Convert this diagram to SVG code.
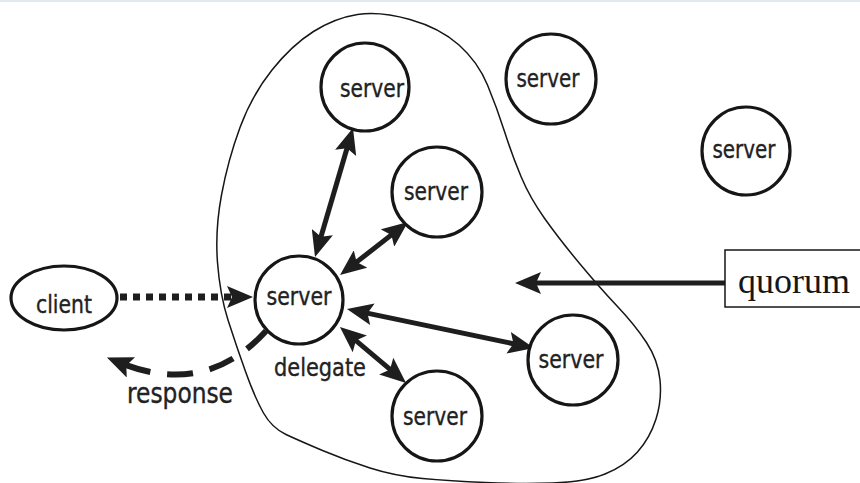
<svg xmlns="http://www.w3.org/2000/svg" width="860" height="483" viewBox="0 0 860 483">
  <style>
    .node { fill: #ffffff; stroke: #161616; stroke-width: 3.2; }
    .lbl { font-family: 'DejaVu Sans Condensed', 'DejaVu Sans', sans-serif; font-stretch: condensed; font-size: 25px; fill: #222222; stroke: #222222; stroke-width: 0.35; text-anchor: middle; }
    .serif { font-family: 'Liberation Serif', 'DejaVu Serif', serif; font-size: 36px; fill: #161616; text-anchor: middle; }
    .link { fill: none; stroke: #1e1e1e; stroke-width: 5; }
    .dotted { stroke-width: 7; stroke-dasharray: 7 6; }
    .dashed { stroke-width: 6; stroke-dasharray: 26 17; }
    .head { fill: #1e1e1e; }
  </style>
  <defs>
    <marker id="arrow" viewBox="0 0 26 22" refX="14" refY="11" markerWidth="26" markerHeight="22" markerUnits="userSpaceOnUse" orient="auto-start-reverse">
      <path class="head" d="M0,0 L26,11 L0,22 L5,11 Z"/>
    </marker>
  </defs>

  <rect width="860" height="483" fill="#ffffff"/>
  <rect x="0" y="0" width="860" height="2" fill="#e2e9ee"/>

  <!-- quorum outline -->
  <g id="quorum-region">
    <path d="M 357.5 14.5 Q 380 11 410 19.5 Q 440 28 459 45 Q 478 62 487.5 85 Q 497 108 504.5 131.5 Q 512 155 521 176.5 Q 530 198 545 219 Q 560 240 580 264 Q 600 288 617.5 306.5 Q 635 325 646.5 342.5 Q 658 360 660 380 Q 662 400 656 419 Q 650 438 637.5 452 Q 625 466 605 474 Q 585 482 552.5 483 Q 520 484 485 482.5 Q 450 481 422.5 478.5 Q 395 476 370 468 Q 345 460 322.5 450.5 Q 300 441 286 434.5 Q 272 428 263.5 413 Q 255 398 245.5 371.5 Q 236 345 228 320 Q 220 295 217.5 262.5 Q 215 230 221.5 195 Q 228 160 240 127.5 Q 252 95 272 70 Q 292 45 313.5 31.5 Q 335 18 357.5 14.5 Z" fill="none" stroke="#161616" stroke-width="1.5"/>
  </g>

  <!-- connectors -->
  <g id="connectors">
    <line class="link" x1="349.6" y1="139.5" x2="318.4" y2="245.5" marker-start="url(#arrow)" marker-end="url(#arrow)"/>
    <line class="link" x1="398.5" y1="229.4" x2="349.5" y2="267.6" marker-start="url(#arrow)" marker-end="url(#arrow)"/>
    <line class="link" x1="358.7" y1="311.4" x2="522.3" y2="345.6" marker-start="url(#arrow)" marker-end="url(#arrow)"/>
    <line class="link" x1="349.1" y1="334.8" x2="396.9" y2="375.2" marker-start="url(#arrow)" marker-end="url(#arrow)"/>
    <line class="link" x1="725" y1="283" x2="527" y2="283" marker-end="url(#arrow)"/>
    <line class="link dotted" x1="120" y1="297" x2="241" y2="297" marker-end="url(#arrow)"/>
    <path class="link dashed" d="M 266 331 Q 205 398 118 362" marker-end="url(#arrow)"/>
  </g>

  <!-- nodes -->
  <g id="client">
    <ellipse class="node" cx="64" cy="298" rx="53" ry="32"/>
    <text class="lbl" x="64" y="313" textLength="56" lengthAdjust="spacingAndGlyphs">client</text>
  </g>
  <g id="server-delegate">
    <circle class="node" cx="299" cy="300" r="44"/>
    <text class="lbl" x="299" y="305" textLength="65" lengthAdjust="spacingAndGlyphs">server</text>
  </g>
  <g id="server-top">
    <circle class="node" cx="365" cy="87" r="44"/>
    <text class="lbl" x="372" y="97" textLength="64" lengthAdjust="spacingAndGlyphs">server</text>
  </g>
  <g id="server-mid">
    <circle class="node" cx="437" cy="192" r="45"/>
    <text class="lbl" x="436" y="200" textLength="64" lengthAdjust="spacingAndGlyphs">server</text>
  </g>
  <g id="server-right">
    <circle class="node" cx="573" cy="360" r="45"/>
    <text class="lbl" x="571" y="368" textLength="65" lengthAdjust="spacingAndGlyphs">server</text>
  </g>
  <g id="server-bottom">
    <circle class="node" cx="437" cy="416" r="45"/>
    <text class="lbl" x="435" y="425" textLength="64" lengthAdjust="spacingAndGlyphs">server</text>
  </g>
  <g id="server-outer-1">
    <circle class="node" cx="551" cy="79" r="45"/>
    <text class="lbl" x="548" y="87" textLength="63" lengthAdjust="spacingAndGlyphs">server</text>
  </g>
  <g id="server-outer-2">
    <circle class="node" cx="746" cy="151" r="44"/>
    <text class="lbl" x="744" y="158" textLength="63" lengthAdjust="spacingAndGlyphs">server</text>
  </g>

  <!-- labels -->
  <g id="label-delegate">
    <text class="lbl" x="320" y="376" textLength="92" lengthAdjust="spacingAndGlyphs">delegate</text>
  </g>
  <g id="label-response">
    <text class="lbl" x="180" y="403" style="font-size:28px" textLength="106" lengthAdjust="spacingAndGlyphs">response</text>
  </g>
  <g id="quorum">
    <rect x="725" y="250" width="140" height="57" fill="#ffffff" stroke="#161616" stroke-width="1.5"/>
    <text class="serif" x="794" y="293">quorum</text>
  </g>
</svg>
